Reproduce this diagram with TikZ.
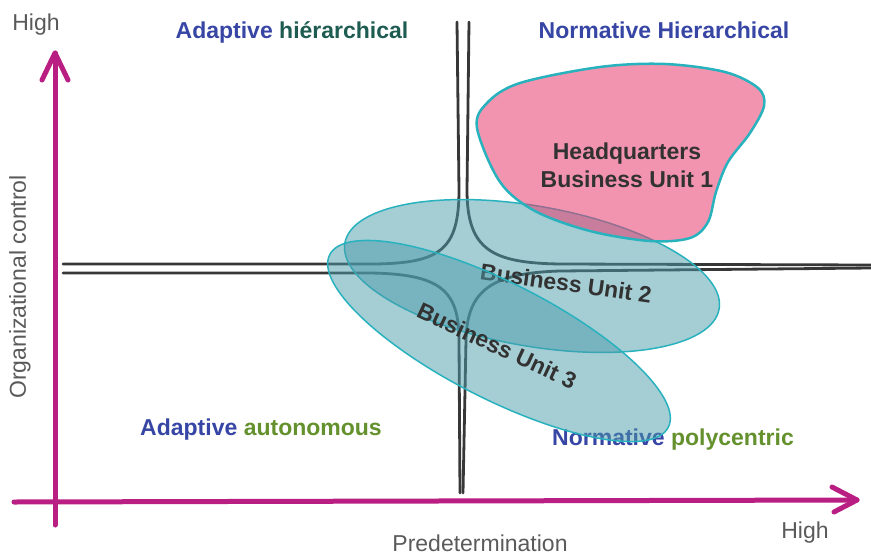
\documentclass[tikz,border=0pt]{standalone}
\usepackage{fontspec}
\setmainfont{Liberation Sans}
\usetikzlibrary{arrows.meta}
\definecolor{axmag}{RGB}{185,30,130}
\definecolor{crossgray}{RGB}{55,55,55}
\definecolor{tealfill}{RGB}{75,155,170}
\definecolor{tealedge}{RGB}{40,178,190}
\definecolor{pinkfill}{RGB}{232,60,110}
\definecolor{lblblue}{RGB}{55,70,165}
\definecolor{lblgreen}{RGB}{100,145,45}
\definecolor{lblteal}{RGB}{30,92,82}
\definecolor{axtext}{RGB}{90,90,90}
\definecolor{unittext}{RGB}{50,50,50}
\begin{document}
\begin{tikzpicture}[x=1pt,y=-1pt,
  axisline/.style={draw=axmag, line width=5pt, line cap=round, line join=round},
  crossline/.style={draw=crossgray, line width=2.8pt, line cap=round},
  unitshape/.style={draw=tealedge, line width=1.5pt, fill=tealfill, fill opacity=0.5},
  blobshape/.style={draw=tealedge, line width=2.5pt, fill=pinkfill, fill opacity=0.55},
  axlabel/.style={text=axtext, font=\fontsize{23}{27}\selectfont, inner sep=0pt},
  quadlabel/.style={font=\bfseries\fontsize{23}{27}\selectfont, inner sep=0pt},
  unitlabel/.style={text=unittext, font=\bfseries\fontsize{23}{28}\selectfont, inner sep=0pt, align=center}]
\useasboundingbox (0,0) rectangle (871,555);

% axes
\coordinate (yaxB) at (55,525);
\coordinate (yaxT) at (55,53);
\coordinate (xaxL) at (14,502);
\coordinate (xaxR) at (857,500);
\draw[axisline] (yaxB) -- (yaxT);
\draw[axisline] (xaxL) -- (xaxR);
\draw[axisline] ([shift={(-13,27)}]yaxT) -- (yaxT) -- ([shift={(13,27)}]yaxT);
\draw[axisline] ([shift={(-25,-13)}]xaxR) -- (xaxR) -- ([shift={(-23,12)}]xaxR);

% axis labels
\node[axlabel, anchor=base] (hiY) at (36,30) {High};
\node[axlabel, anchor=base] (hiX) at (805,538) {High};
\node[axlabel, anchor=base] (xlab) at (480,551) {Predetermination};
\node[axlabel, rotate=90] (ylab) at (20,287) {Organizational control};

% cross lines
\coordinate (tlT) at (457,22);
\coordinate (tlL) at (63,264);
\coordinate (trT) at (469,22);
\coordinate (trR) at (871,265);
\coordinate (blL) at (63,273);
\coordinate (blB) at (460,493);
\coordinate (brR) at (871,268);
\coordinate (brB) at (463,493);
\draw[crossline] (tlT) -- (459,190) .. controls (459,250) and (440,263) .. (375,264) -- (tlL);
\draw[crossline] (trT) -- (467,190) .. controls (467,250) and (492,263) .. (560,264) -- (trR);
\draw[crossline] (blL) -- (370,273) .. controls (440,274) and (459,290) .. (459,340) -- (blB);
\draw[crossline] (brR) -- (560,271) .. controls (492,273) and (467,290) .. (466,340) -- (brB);

% quadrant labels
\node[quadlabel, anchor=base] (q1) at (292,38) {\textcolor{lblblue}{Adaptive} \textcolor{lblteal}{hiérarchical}};
\node[quadlabel, anchor=base, text=lblblue] (q2) at (664,38) {Normative Hierarchical};
\node[quadlabel, anchor=base] (q3) at (261,435) {\textcolor{lblblue}{Adaptive} \textcolor{lblgreen}{autonomous}};
\node[quadlabel, anchor=base] (q4) at (673,445) {\textcolor{lblblue}{Normative} \textcolor{lblgreen}{polycentric}};

% business unit 2
\draw[unitshape, shift={(532,276)}, rotate=-10] (0,0) ellipse [x radius=190pt, y radius=70pt];
\node[unitlabel, rotate=-8] (bu2) at (566,283) {Business Unit 2};

% business unit 3
\draw[unitshape, shift={(499,341)}, rotate=-27] (0,0) ellipse [x radius=190pt, y radius=58pt];
\node[unitlabel, rotate=-25] (bu3) at (497,346) {Business Unit 3};

% headquarters blob
\draw[blobshape] plot[smooth cycle, tension=0.55] coordinates {
  (477,128) (487,103) (520,83) (600,67) (665,64) (725,72) (758,88) (764,106)
  (750,133) (728,162) (716,192) (708,222) (690,238) (650,241) (590,231)
  (535,211) (500,182)};
\node[unitlabel] (hq) at (627,165) {Headquarters\\Business Unit 1};
\end{tikzpicture}
\end{document}
